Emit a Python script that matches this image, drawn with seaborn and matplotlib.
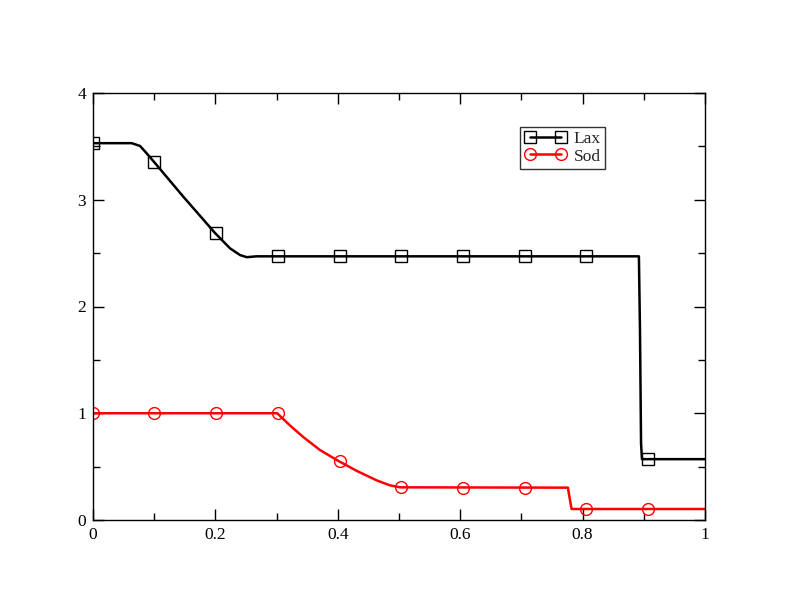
import numpy as np
import pandas as pd
import matplotlib
matplotlib.use("Agg")
import matplotlib.pyplot as plt
from matplotlib.lines import Line2D
from matplotlib.ticker import MultipleLocator
import seaborn as sns

sns.set_theme(style="white")
plt.rcParams["font.family"] = ["Liberation Serif", "DejaVu Serif"]

# Lax curve
lax_x = [0.0, 0.0632, 0.0768, 0.0877, 0.0985, 0.1475, 0.1993, 0.2239, 0.2402, 0.2511, 0.2675,
         0.892, 0.8938, 0.8955, 0.897, 1.0]
lax_y = [3.53, 3.53, 3.504, 3.435, 3.363, 3.029, 2.689, 2.545, 2.482, 2.462, 2.47,
         2.47, 1.76, 0.72, 0.57, 0.57]

# Sod curve
sod_x = [0.0, 0.301, 0.322, 0.344, 0.371, 0.401, 0.431, 0.464, 0.485, 0.502,
         0.776, 0.779, 0.782, 1.0]
sod_y = [1.0, 1.0, 0.885, 0.775, 0.655, 0.553, 0.46, 0.37, 0.325, 0.306,
         0.303, 0.20, 0.103, 0.103]

# symbol positions
mark_x = [0.0, 0.1, 0.201, 0.302, 0.403, 0.504, 0.605, 0.706, 0.806, 0.907]
lax_mark_y = [3.53, 3.356, 2.686, 2.47, 2.47, 2.47, 2.47, 2.47, 2.47, 0.57]
sod_mark_y = [1.0, 1.0, 1.0, 1.0, 0.553, 0.306, 0.303, 0.303, 0.103, 0.103]

lax = pd.DataFrame({"x": lax_x, "y": lax_y})
sod = pd.DataFrame({"x": sod_x, "y": sod_y})

fig = plt.figure(figsize=(7.92, 6.12), dpi=100)
ax = fig.add_axes([93 / 792, 92 / 612, 612 / 792, 427 / 612])

sns.lineplot(data=lax, x="x", y="y", color="black", lw=1.8, estimator=None, sort=False, ax=ax)
sns.lineplot(data=sod, x="x", y="y", color="red", lw=1.8, estimator=None, sort=False, ax=ax)
ax.plot(mark_x, lax_mark_y, ls="none", marker="s", ms=8.5, mfc="none", mec="black", mew=1.0)
ax.plot(mark_x, sod_mark_y, ls="none", marker="o", ms=8.5, mfc="none", mec="red", mew=1.0)

ax.set_xlim(0, 1)
ax.set_ylim(0, 4)
ax.set_xlabel("")
ax.set_ylabel("")
ax.xaxis.set_minor_locator(MultipleLocator(0.1))
ax.yaxis.set_minor_locator(MultipleLocator(0.5))
ax.xaxis.set_ticks([0, 0.2, 0.4, 0.6, 0.8, 1.0], labels=["0", "0.2", "0.4", "0.6", "0.8", "1"])
ax.yaxis.set_ticks([0, 1, 2, 3, 4], labels=["0", "1", "2", "3", "4"])
ax.tick_params(which="both", direction="in", top=True, right=True, bottom=True, left=True,
               color="black", width=1.0, labelsize=12.5, labelcolor="black")
ax.tick_params(which="major", length=8, pad=5)
ax.tick_params(which="minor", length=5)
for s in ax.spines.values():
    s.set_color("black")
    s.set_linewidth(1.0)

handles = [
    Line2D([], [], color="black", lw=1.8, marker="s", ms=8.5, mfc="none", mec="black", mew=1.0),
    Line2D([], [], color="red", lw=1.8, marker="o", ms=8.5, mfc="none", mec="red", mew=1.0),
]
leg = ax.legend(handles, ["Lax", "Sod"], loc="upper left", bbox_to_anchor=(427 / 612, 393 / 427),
                numpoints=2, handlelength=2.4, handletextpad=0.45, fontsize=12.5, frameon=True,
                fancybox=False, borderpad=0.25, labelspacing=0.05, borderaxespad=0)
leg.get_frame().set_edgecolor("black")
leg.get_frame().set_linewidth(1.0)

fig.savefig("out.png", dpi=100, facecolor="white")
